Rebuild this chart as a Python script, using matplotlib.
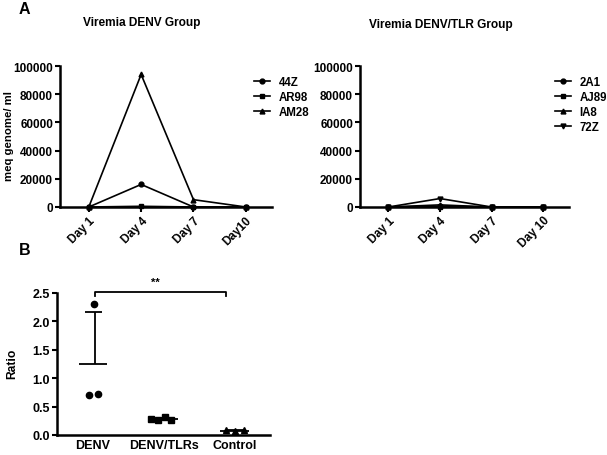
import numpy as np
import matplotlib
matplotlib.use("Agg")
import matplotlib.pyplot as plt

plt.rcParams['font.family'] = ['Liberation Sans', 'DejaVu Sans']
plt.rcParams['font.weight'] = 'bold'

# ---- data ----
days_left = ["Day 1", "Day 4", "Day 7", "Day10"]
days_right = ["Day 1", "Day 4", "Day 7", "Day 10"]

denv_names = ["44Z", "AR98", "AM28"]
v_44Z = [0, 16000, 0, 0]
v_AR98 = [0, 500, 0, 0]
v_AM28 = [0, 94000, 5200, 0]

tlr_names = ["2A1", "AJ89", "IA8", "72Z"]
v_2A1 = [0, 500, 0, 0]
v_AJ89 = [0, 300, 0, 0]
v_IA8 = [0, 1500, 0, 0]
v_72Z = [0, 6000, 0, 0]

groups_b = ["DENV", "DENV/TLRs", "Control"]
ratio_denv = [2.30, 0.70, 0.73]
ratio_tlr = [0.29, 0.26, 0.31, 0.27]
ratio_ctrl = [0.08, 0.075, 0.08]

W, H = 607, 456
fig = plt.figure(figsize=(W / 100, H / 100), dpi=100)

def px_axes(x0, y0, x1, y1):
    return fig.add_axes([x0 / W, 1 - y1 / H, (x1 - x0) / W, (y1 - y0) / H])

def style(ax, ticksize=8.5):
    for s in ("top", "right"):
        ax.spines[s].set_visible(False)
    for s in ("left", "bottom"):
        ax.spines[s].set_linewidth(1.8)
    ax.tick_params(axis="both", direction="out", width=1.5, length=3.5,
                   labelsize=ticksize, pad=1.5)

leg_kw = dict(loc="upper left", frameon=False, fontsize=8.3, handlelength=1.45,
              handletextpad=0.7, labelspacing=0.28, borderaxespad=0,
              bbox_transform=fig.transFigure)

# ---- Panel A left ----
axL = px_axes(60, 67, 272, 208)
x = np.arange(1, 5)
markers = ["o", "s", "^", "v"]
for vals, name, m in zip([v_44Z, v_AR98, v_AM28], denv_names, markers):
    axL.plot(x, vals, color="black", lw=1.2, marker=m, ms=3.5, label=name,
             clip_on=False)
axL.set_xlim(0.45, 4.5)
axL.set_ylim(0, 100000)
axL.set_yticks(np.arange(0, 100001, 20000))
axL.set_xticks(x)
axL.set_xticklabels(days_left, rotation=45, ha="right", rotation_mode="anchor")
style(axL)
axL.legend(bbox_to_anchor=(249 / W, 1 - 72 / H), **leg_kw)
fig.text(9 / W, 1 - 136 / H, "meq genome/ ml", rotation=90, ha="center",
         va="center", fontsize=8.2)

# ---- Panel A right ----
axR = px_axes(360, 67, 569, 208)
for vals, name, m in zip([v_2A1, v_AJ89, v_IA8, v_72Z], tlr_names, markers):
    axR.plot(x, vals, color="black", lw=1.2, marker=m, ms=3.5, label=name,
             clip_on=False)
axR.set_xlim(0.45, 4.5)
axR.set_ylim(0, 100000)
axR.set_yticks(np.arange(0, 100001, 20000))
axR.set_xticks(x)
axR.set_xticklabels(days_right, rotation=45, ha="right", rotation_mode="anchor")
style(axR)
axR.legend(bbox_to_anchor=(550 / W, 1 - 72 / H), **leg_kw)

fig.text(142 / W, 1 - 23 / H, "Viremia DENV Group", ha="center", va="center", fontsize=8.6)
fig.text(441 / W, 1 - 25 / H, "Viremia DENV/TLR Group", ha="center", va="center", fontsize=8.6)
fig.text(19 / W, 1 - 10 / H, "A", ha="left", va="center", fontsize=11.5)
fig.text(19 / W, 1 - 251 / H, "B", ha="left", va="center", fontsize=11.5)

# ---- Panel B ----
axB = px_axes(57, 294, 270, 436)
offs_denv = [0.01, -0.06, 0.07]
offs_tlr = [-0.18, -0.08, 0.02, 0.10]
offs_ctrl = [-0.12, 0.0, 0.13]
centers = [1, 2, 3]
data_b = [ratio_denv, ratio_tlr, ratio_ctrl]
offs_b = [offs_denv, offs_tlr, offs_ctrl]
mk_b = ["o", "s", "^"]
for c, vals, offs, m in zip(centers, data_b, offs_b, mk_b):
    vals = np.array(vals)
    axB.plot(c + np.array(offs), vals, ls="none", marker=m, ms=4.5, color="black",
             clip_on=False, zorder=3)
    mean = vals.mean()
    sd = vals.std(ddof=1)
    axB.hlines(mean, c - 0.2, c + 0.2, color="black", lw=1.3)
    axB.vlines(c + 0.02, mean, mean + sd, color="black", lw=1.3)
    axB.hlines(mean + sd, c - 0.11, c + 0.13, color="black", lw=1.3)

axB.set_xlim(0.49, 3.5)
axB.set_ylim(0, 2.5)
axB.set_yticks(np.arange(0, 2.51, 0.5))
axB.yaxis.set_major_formatter(matplotlib.ticker.FormatStrFormatter("%.1f"))
axB.set_xticks(centers)
axB.set_xticklabels(groups_b, fontsize=9.5)
style(axB, ticksize=9)
axB.tick_params(axis="x", length=0, pad=3)
fig.text(12 / W, 1 - 364 / H, "Ratio", rotation=90, ha="center", va="center",
         fontsize=8.7)

# significance bracket
axB.plot([1.02, 1.02, 2.88, 2.88], [2.45, 2.52, 2.52, 2.45], color="black", lw=1.3,
         clip_on=False)
fig.text(155 / W, 1 - 283 / H, "**", ha="center", va="center", fontsize=8)

fig.savefig("out.png", dpi=100)
